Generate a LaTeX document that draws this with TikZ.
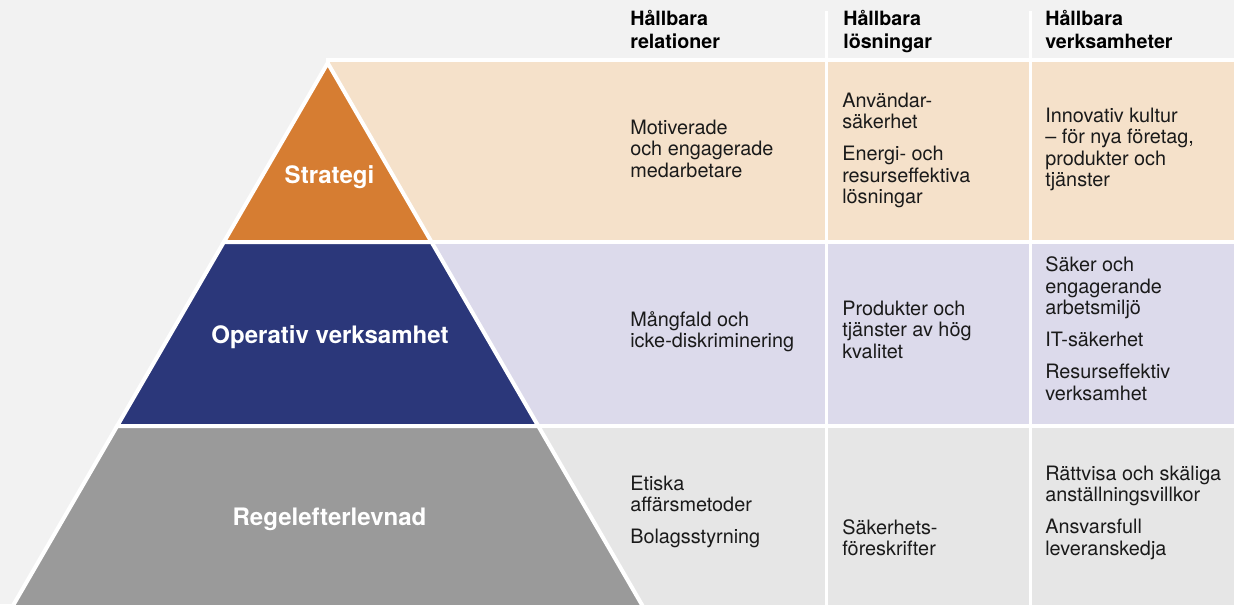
\documentclass[tikz,border=0pt]{standalone}
\usepackage{fontspec}
\setmainfont{TeX Gyre Heros}
\usetikzlibrary{positioning}

\definecolor{bgGray}{HTML}{F2F2F2}
\definecolor{stratOrange}{HTML}{D67D32}
\definecolor{stratBand}{HTML}{F5E1CA}
\definecolor{opBlue}{HTML}{2B377A}
\definecolor{opBand}{HTML}{DCDAEB}
\definecolor{regGray}{HTML}{9A9A9A}
\definecolor{regBand}{HTML}{E6E6E6}
\definecolor{cellInk}{HTML}{1A1A1A}

\newcommand\apexX{327.7}
\newcommand\apexY{63}
\newcommand\pyrSlope{0.58}
\newcommand\gapWidth{0.1cm}
\newcommand\cellGap{7.5pt}
\newcommand\cellBox[1]{\parbox[t]{5cm}{\raggedright\fontsize{14.1}{15.3}\selectfont #1}}
\newcommand\headBox[1]{\parbox[t]{5cm}{\raggedright\fontsize{14}{16.3}\selectfont\bfseries #1}}
\newcommand\leftX[1]{{\apexX-\pyrSlope*(#1-\apexY)}}
\newcommand\rightX[1]{{\apexX+\pyrSlope*(#1-\apexY)}}
\newcommand\drawBands{
	\foreach \yTop/\yBot/\bandCol in {60/242/stratBand, 242/426/opBand, 426/612/regBand}{
		\draw[fill=\bandCol, draw=white, line width=\gapWidth]
		(\apexX,\yTop) rectangle (1240,\yBot);
	}
}

\tikzset{
	cell/.style={anchor=base west, inner sep=0pt, text=cellInk},
	head/.style={anchor=base west, inner sep=0pt, text=black},
	layer/.style={draw=white, line width=\gapWidth, line join=miter},
	layerlabel/.style={anchor=base, inner sep=0pt, text=white, font=\fontsize{17.1}{19}\selectfont\bfseries}
}

\begin{document}
\begin{tikzpicture}[x=0.025cm, y=-0.025cm]

	\fill[bgGray] (0,0) rectangle (1234,604);
	\useasboundingbox (0,0) rectangle (1234,604);

	\drawBands

	\foreach \colX in {826,1030}{
		\draw[white, line width=0.075cm] (\colX,11) -- (\colX,610);
	}

	\draw[layer, fill=stratOrange] (\apexX,\apexY) -- (\leftX{242},242) -- (\rightX{242},242) -- cycle;
	\draw[layer, fill=opBlue] (\leftX{242},242) -- (\leftX{426},426) -- (\rightX{426},426) -- (\rightX{242},242) -- cycle;
	\draw[layer, fill=regGray] (\leftX{426},426) -- (\leftX{612},612) -- (\rightX{612},612) -- (\rightX{426},426) -- cycle;

	\node[layerlabel] (strategiLbl) at (329.5,183) {Strategi};
	\node[layerlabel] (operativLbl) at (330,343) {Operativ verksamhet};
	\node[layerlabel] (regelLbl) at (329.5,525) {Regelefterlevnad};

	\node[head] (relHead) at (630,26) {\headBox{Hållbara\\relationer}};
	\node[head] (losHead) at (843,26) {\headBox{Hållbara\\lösningar}};
	\node[head] (verkHead) at (1045,26) {\headBox{Hållbara\\verksamheter}};

	\node[cell] (relStrat) at (630,134.3) {\cellBox{Motiverade\\och engagerade\\medarbetare}};
	\node[cell] (losStrat) at (842,107) {\cellBox{Användar-\\säkerhet\\[\cellGap]Energi- och\\resurseffektiva\\lösningar}};
	\node[cell] (verkStrat) at (1045,122.3) {\cellBox{Innovativ kultur\\-- för nya företag,\\produkter och\\tjänster}};

	\node[cell] (relOp) at (630,326) {\cellBox{Mångfald och\\icke-diskriminering}};
	\node[cell] (losOp) at (842,315) {\cellBox{Produkter och\\tjänster av hög\\kvalitet}};
	\node[cell] (verkOp) at (1045,271.7) {\cellBox{Säker och\\engagerande\\arbetsmiljö\\[\cellGap]IT-säkerhet\\[\cellGap]Resurseffektiv\\verksamhet}};

	\node[cell] (relReg) at (630,490) {\cellBox{Etiska\\affärsmetoder\\[\cellGap]Bolagsstyrning}};
	\node[cell] (losReg) at (842,534) {\cellBox{Säkerhets-\\föreskrifter}};
	\node[cell] (verkReg) at (1045,480) {\cellBox{Rättvisa och skäliga\\anställningsvillkor\\[\cellGap]Ansvarsfull\\leveranskedja}};

\end{tikzpicture}
\end{document}
